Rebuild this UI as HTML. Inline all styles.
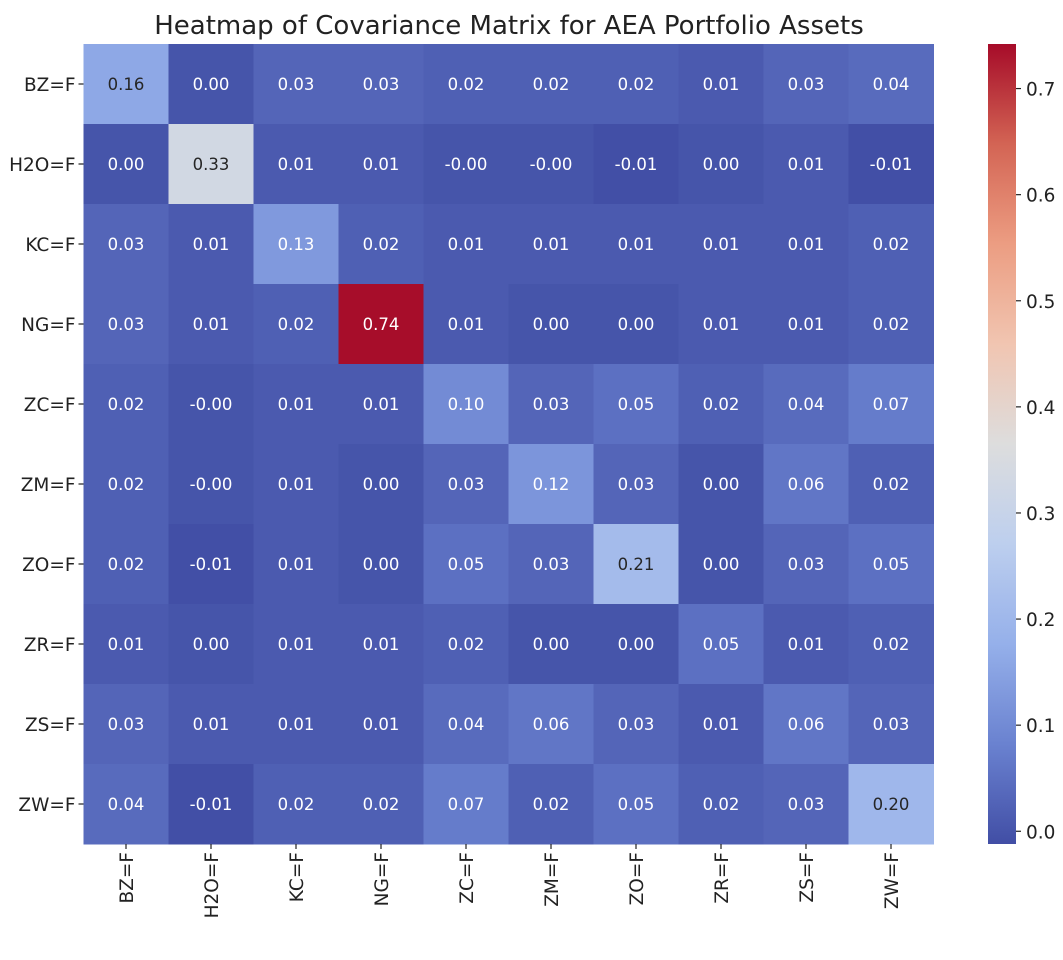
<!DOCTYPE html>
<html><head><meta charset="utf-8"><style>
body{margin:0;background:#fff;}
svg text{font-family:"DejaVu Sans","Liberation Sans",sans-serif;}
</style></head><body>
<svg id="chart" width="1063" height="955" xmlns="http://www.w3.org/2000/svg">
<text x="509" y="34" font-size="26" text-anchor="middle" fill="#222">Heatmap of Covariance Matrix for AEA Portfolio Assets</text>
<g id="cells"></g><g id="ylab"></g><g id="xlab"></g>
<defs><linearGradient id="cg" x1="0" y1="1" x2="0" y2="0"></linearGradient></defs>
<rect x="988" y="44" width="28" height="800" fill="url(#cg)"/>
<g id="cbticks"></g>
</svg>
<script>
const labels=["BZ=F","H2O=F","KC=F","NG=F","ZC=F","ZM=F","ZO=F","ZR=F","ZS=F","ZW=F"];
const row0=["0.16","0.00","0.03","0.03","0.02","0.02","0.02","0.01","0.03","0.04"];
const row1=["0.00","0.33","0.01","0.01","-0.00","-0.00","-0.01","0.00","0.01","-0.01"];
const row2=["0.03","0.01","0.13","0.02","0.01","0.01","0.01","0.01","0.01","0.02"];
const row3=["0.03","0.01","0.02","0.74","0.01","0.00","0.00","0.01","0.01","0.02"];
const row4=["0.02","-0.00","0.01","0.01","0.10","0.03","0.05","0.02","0.04","0.07"];
const row5=["0.02","-0.00","0.01","0.00","0.03","0.12","0.03","0.00","0.06","0.02"];
const row6=["0.02","-0.01","0.01","0.00","0.05","0.03","0.21","0.00","0.03","0.05"];
const row7=["0.01","0.00","0.01","0.01","0.02","0.00","0.00","0.05","0.01","0.02"];
const row8=["0.03","0.01","0.01","0.01","0.04","0.06","0.03","0.01","0.06","0.03"];
const row9=["0.04","-0.01","0.02","0.02","0.07","0.02","0.05","0.02","0.03","0.20"];
const matrix=[row0,row1,row2,row3,row4,row5,row6,row7,row8,row9];
const cbTicks=[0.0,0.1,0.2,0.3,0.4,0.5,0.6,0.7];
const vmin=-0.012,vmax=0.742;
const X0=83.5,Y0=44,CW=85,CH=80;
const NS="http://www.w3.org/2000/svg";
const anchors=[[59,76,192],[98,130,234],[141,176,254],[184,208,249],[221,221,221],[245,196,173],[244,154,123],[222,96,77],[180,4,38]];
function cmap(t){t=Math.max(0,Math.min(1,t));const p=t*8,i=Math.min(7,Math.floor(p)),f=p-i;
const c=anchors[i].map((c,k)=>c+(anchors[i+1][k]-c)*f);
const L=0.3*c[0]+0.59*c[1]+0.11*c[2];
const s=t<0.5?0.75:0.88;
return c.map(x=>Math.round(Math.min(255,L+(x-L)*s)));}
function norm(v){return (v-vmin)/(vmax-vmin);}
function xs(j){return X0+j*CW;} function ys(i){return Y0+i*CH;}
function cby(v){return 844-norm(v)*800;}
function mk(tag,attrs,parent){const e=document.createElementNS(NS,tag);for(const k in attrs)e.setAttribute(k,attrs[k]);parent.appendChild(e);return e;}
const cells=document.getElementById('cells');
matrix.forEach((row,i)=>row.forEach((s,j)=>{
 const v=parseFloat(s);
 const c=cmap(norm(v));
 const r=mk('rect',{x:xs(j),y:ys(i),width:CW+0.5,height:CH+0.5,fill:`rgb(${c})`},cells);
 
 
 const lum=(0.2126*c[0]+0.7152*c[1]+0.0722*c[2])/255;
 const t=mk('text',{x:xs(j)+CW/2,y:ys(i)+CH/2+6,'font-size':16.5,'text-anchor':'middle',fill:lum>0.6?'#262626':'#fff'},cells);
 t.textContent=s;
 
 
}));
const yl=document.getElementById('ylab'),xl=document.getElementById('xlab');
labels.forEach((l,i)=>{
 mk('line',{x1:X0-5,x2:X0,y1:ys(i)+CH/2,y2:ys(i)+CH/2,stroke:'#222','stroke-width':1.2},yl);
 const t=mk('text',{x:X0-8,y:ys(i)+CH/2+7,'font-size':18.5,'text-anchor':'end',fill:'#222'},yl);
 t.textContent=l;
 
 
 const cx=xs(i)+CW/2;
 mk('line',{x1:cx,x2:cx,y1:844,y2:849,stroke:'#222','stroke-width':1.2},xl);
 const u=mk('text',{x:0,y:0,'font-size':18.5,'text-anchor':'end',fill:'#222',transform:`translate(${cx+7},852) rotate(-90)`},xl);
 u.textContent=l;
 
 
});
const g=document.getElementById('cg');
for(let k=0;k<=16;k++){const c=cmap(k/16);mk('stop',{offset:k/16,'stop-color':`rgb(${c})`},g);}
const cbt=document.getElementById('cbticks');
cbTicks.forEach(v=>{const y=cby(v);
 mk('line',{x1:1016,x2:1021,y1:y,y2:y,stroke:'#222','stroke-width':1.2},cbt);
 const t=mk('text',{x:1026,y:y+7,'font-size':18.5,fill:'#222'},cbt);
 t.textContent=v.toFixed(1);
 
 
});
</script>
</body></html>
